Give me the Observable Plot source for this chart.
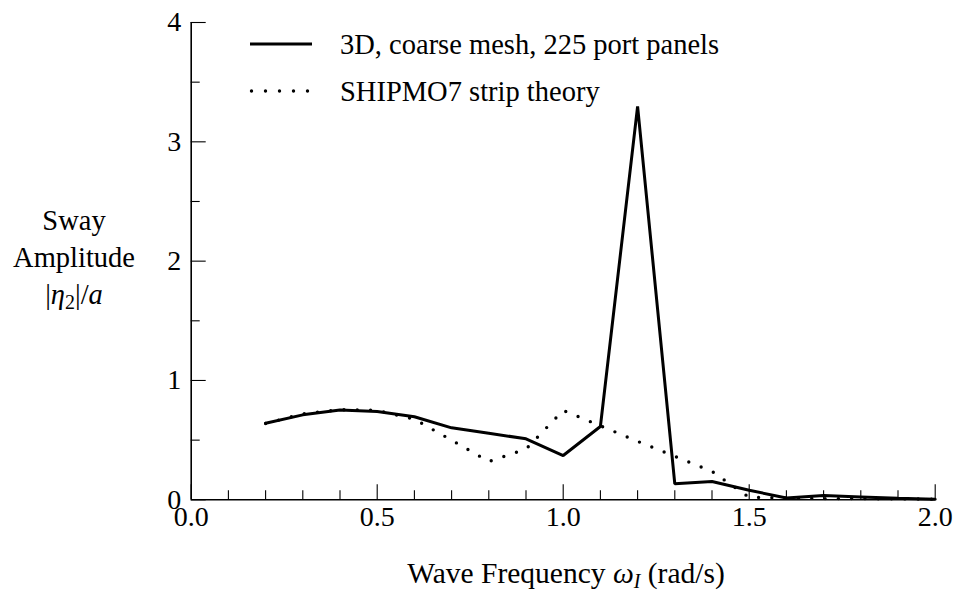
<!DOCTYPE html>
<html><head><meta charset="utf-8">
<script src="https://cdn.jsdelivr.net/npm/d3@7"></script>
<script src="https://cdn.jsdelivr.net/npm/@observablehq/plot@0.6"></script>
<style>
body{margin:0;background:#fff}
svg{display:block}
</style>
</head><body><div id="chart"></div>
<script>
// Wave frequency (rad/s)
const freq = [0.2,0.3,0.4,0.5,0.6,0.7,0.8,0.9,1.0,1.1,1.2,1.3,1.4,1.5,1.6,1.7,1.8,1.9,2.0];
// 3D, coarse mesh, 225 port panels
const sway3D = [0.642,0.712,0.752,0.740,0.696,0.603,0.558,0.511,0.371,0.614,3.297,0.134,0.153,0.080,0.015,0.036,0.024,0.012,0.005];
// SHIPMO7 strip theory
const swayStrip = [0.640,0.720,0.755,0.750,0.675,0.500,0.321,0.425,0.749,0.620,0.490,0.364,0.238,0.020,0.015,0.010,0.010,0.008,0.005];

const xMajorTicks = [0,0.5,1.0,1.5,2.0];
const xMinorTicks = [0.1,0.2,0.3,0.4,0.6,0.7,0.8,0.9,1.1,1.2,1.3,1.4,1.6,1.7,1.8,1.9];
const yMajorTicks = [0,1,2,3,4];
const yMinorTicks = [0.5,1.5,2.5,3.5];

const seriesNames = ["3D, coarse mesh, 225 port panels","SHIPMO7 strip theory"];

const rows3D = freq.map((f,i)=>({f, v: sway3D[i]}));
const rowsStrip = freq.map((f,i)=>({f, v: swayStrip[i]}));

const W = 958, H = 591;
const mL = 190.7, mR = 23.3, mT = 22, mB = 91.7;
const innerH = H - mT - mB, innerW = W - mL - mR;
const font = "'Liberation Serif', 'Times New Roman', serif";

const plot = Plot.plot({
  width: W, height: H,
  marginLeft: mL, marginRight: mR, marginTop: mT, marginBottom: mB,
  style: {fontFamily: font, background: "#fff", color: "#000", overflow: "visible"},
  x: {domain: [0, 2]},
  y: {domain: [0, 4]},
  marks: [
    Plot.ruleY([0], {stroke: "#000", strokeWidth: 1.6}),
    Plot.ruleX([0], {stroke: "#000", strokeWidth: 1.6}),
    Plot.tickX(xMajorTicks, {x: d=>d, stroke: "#000", strokeWidth: 1.1, insetTop: innerH - 15}),
    Plot.tickX(xMinorTicks, {x: d=>d, stroke: "#000", strokeWidth: 1.1, insetTop: innerH - 9}),
    Plot.tickY(yMajorTicks, {y: d=>d, stroke: "#000", strokeWidth: 1.1, insetRight: innerW - 15}),
    Plot.tickY(yMinorTicks, {y: d=>d, stroke: "#000", strokeWidth: 1.1, insetRight: innerW - 9}),
    Plot.axisX({ticks: xMajorTicks, tickSize: 0, tickPadding: 6, tickFormat: d3.format(".1f"), fontSize: 28, label: null}),
    Plot.axisY({ticks: yMajorTicks, tickSize: 0, tickPadding: 10, tickFormat: d=>String(d), fontSize: 28, label: null}),
    Plot.line(rowsStrip, {x: "f", y: "v", stroke: "#000", strokeWidth: 3.4, strokeLinecap: "round", strokeDasharray: "0 13.3"}),
    Plot.line(rows3D, {x: "f", y: "v", stroke: "#000", strokeWidth: 3, strokeLinejoin: "miter"})
  ]
});

const svg = d3.select(plot);
const fs = 28.5;

// Legend
const leg = svg.append("g").attr("font-family", font).attr("font-size", fs).attr("fill", "#000").attr("text-anchor", "start");
leg.append("line").attr("x1", 250).attr("x2", 312).attr("y1", 44).attr("y2", 44)
  .attr("stroke", "#000").attr("stroke-width", 3);
leg.append("text").attr("x", 340).attr("y", 53.5).text(seriesNames[0]);
leg.append("line").attr("x1", 251.5).attr("x2", 308).attr("y1", 91).attr("y2", 91)
  .attr("stroke", "#000").attr("stroke-width", 3.4).attr("stroke-linecap", "round").attr("stroke-dasharray", "0 14");
leg.append("text").attr("x", 340).attr("y", 100.5).text(seriesNames[1]);

// Y label
const yl = svg.append("text").attr("font-family", font).attr("font-size", fs).attr("text-anchor", "middle").attr("fill", "#000");
yl.append("tspan").attr("x", 74).attr("y", 230).text("Sway");
yl.append("tspan").attr("x", 74).attr("y", 267).text("Amplitude");
const l3 = yl.append("tspan").attr("x", 74).attr("y", 304);
l3.append("tspan").text("|");
l3.append("tspan").attr("font-style", "italic").text("η");
l3.append("tspan").attr("font-size", 20).attr("dy", 5).text("2");
l3.append("tspan").attr("dy", -5).text("|/");
l3.append("tspan").attr("font-style", "italic").text("a");

// X label
const xl = svg.append("text").attr("font-family", font).attr("font-size", 29.5).attr("text-anchor", "middle").attr("fill", "#000")
  .attr("x", 566).attr("y", 583);
xl.append("tspan").text("Wave Frequency ");
xl.append("tspan").attr("font-style", "italic").text("ω");
xl.append("tspan").attr("font-style", "italic").attr("font-size", 20).attr("dy", 5).text("I");
xl.append("tspan").attr("dy", -5).text(" (rad/s)");

document.getElementById("chart").appendChild(plot);
</script>
</body></html>
